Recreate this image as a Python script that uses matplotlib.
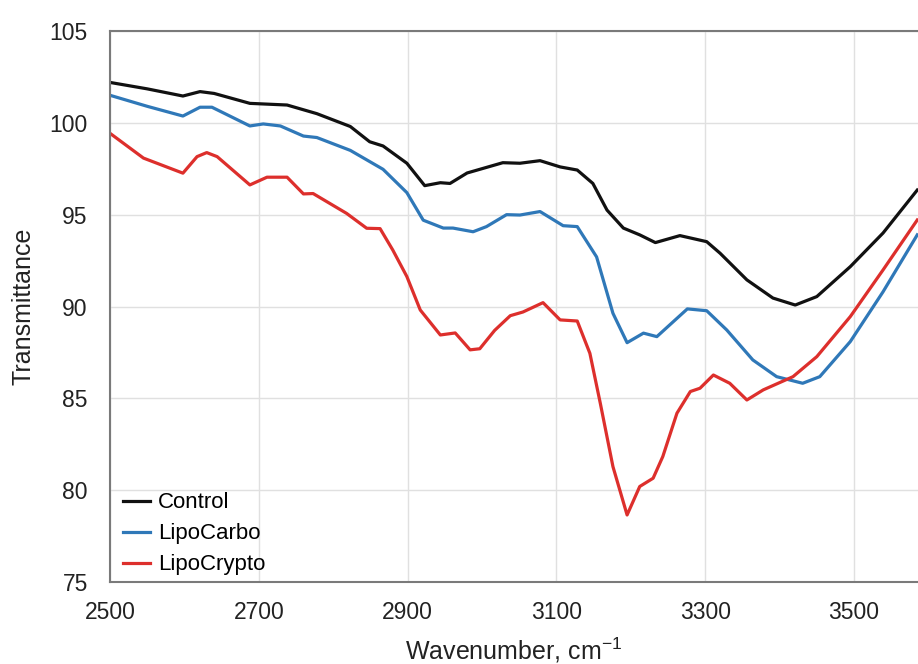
import matplotlib
matplotlib.use('Agg')
import matplotlib.pyplot as plt

plt.rcParams['font.family'] = ['Liberation Sans', 'DejaVu Sans']

# values
control_x = [2500, 2550, 2598, 2621, 2640, 2688, 2738, 2778, 2823, 2849, 2867, 2899,
             2923, 2944, 2957, 2980, 3028, 3051, 3078, 3105, 3128, 3149, 3168, 3190,
             3212, 3233, 3266, 3302, 3320, 3356, 3391, 3421, 3450, 3495, 3539, 3585]
control_y = [102.2, 101.85, 101.46, 101.7, 101.6, 101.06, 100.97, 100.5, 99.8, 98.97, 98.74, 97.8,
             96.58, 96.74, 96.7, 97.27, 97.83, 97.8, 97.94, 97.6, 97.43, 96.7, 95.25, 94.27,
             93.9, 93.48, 93.86, 93.53, 92.9, 91.45, 90.46, 90.08, 90.54, 92.17, 94.0, 96.34]

carbo_x = [2500, 2550, 2598, 2621, 2637, 2688, 2706, 2729, 2760, 2778, 2823, 2867, 2899,
           2921, 2948, 2961, 2988, 3006, 3033, 3051, 3078, 3109, 3128, 3154, 3176, 3195,
           3217, 3235, 3276, 3302, 3329, 3364, 3396, 3431, 3454, 3495, 3539, 3585]
carbo_y = [101.5, 100.9, 100.37, 100.85, 100.85, 99.83, 99.94, 99.83, 99.28, 99.2, 98.5, 97.47, 96.2,
           94.7, 94.27, 94.27, 94.07, 94.35, 95.0, 94.98, 95.17, 94.4, 94.35, 92.7, 89.63, 88.03,
           88.55, 88.36, 89.87, 89.77, 88.72, 87.09, 86.18, 85.82, 86.18, 88.09, 90.8, 93.9]

crypto_x = [2500, 2545, 2598, 2617, 2630, 2644, 2688, 2711, 2738, 2760, 2773, 2818, 2845,
            2863, 2880, 2899, 2917, 2944, 2964, 2984, 2997, 3017, 3038, 3055, 3082, 3105,
            3128, 3145, 3159, 3176, 3195, 3212, 3230, 3243, 3262, 3280, 3293, 3311, 3333,
            3356, 3378, 3418, 3450, 3495, 3539, 3585]
crypto_y = [99.43, 98.08, 97.26, 98.16, 98.38, 98.16, 96.62, 97.04, 97.04, 96.13, 96.15, 95.07, 94.26,
            94.24, 93.08, 91.63, 89.81, 88.45, 88.56, 87.64, 87.7, 88.7, 89.5, 89.7, 90.21, 89.27,
            89.21, 87.45, 84.73, 81.28, 78.65, 80.2, 80.65, 81.83, 84.19, 85.37, 85.55, 86.27, 85.82,
            84.91, 85.46, 86.18, 87.27, 89.45, 91.99, 94.71]

labels = ['Control', 'LipoCarbo', 'LipoCrypto']
colors = ['#111111', '#2f78b8', '#dd2f2c']

x_ticks = [2500, 2700, 2900, 3100, 3300, 3500]
y_ticks = [75, 80, 85, 90, 95, 100, 105]

fig = plt.figure(figsize=(9.18, 6.64), dpi=100)
ax = fig.add_axes([110/918, 82/664, 808/918, 551/664])

series = [(control_x, control_y), (carbo_x, carbo_y), (crypto_x, crypto_y)]
for (xs, ys), lab, col in zip(series, labels, colors):
    ax.plot(xs, ys, color=col, lw=2.3, label=lab, solid_joinstyle='round')

ax.set_xlim(2500, 3586)
ax.set_ylim(75, 105)
ax.set_xticks(x_ticks)
ax.set_yticks(y_ticks)
ax.tick_params(length=0, labelsize=16.5, colors='#222222')
ax.tick_params(axis='x', pad=14)
ax.tick_params(axis='y', pad=16)
ax.grid(True, color='#e0e0e0', lw=1)
ax.set_axisbelow(True)

for s in ['left', 'bottom', 'top']:
    ax.spines[s].set_color('#7a7a7a')
    ax.spines[s].set_linewidth(1.5)
ax.spines['right'].set_visible(False)

ax.set_xlabel('Wavenumber, cm$^{\\mathregular{-1}}$', fontsize=18, color='#222222', labelpad=8)
ax.set_ylabel('Transmittance', fontsize=18, color='#222222', labelpad=10)

ax.legend(loc='lower left', bbox_to_anchor=(0, -0.012), frameon=False, fontsize=16,
          handlelength=1.2, handletextpad=0.35, labelspacing=0.45, borderaxespad=0.2)

fig.savefig('out.png', dpi=100)
